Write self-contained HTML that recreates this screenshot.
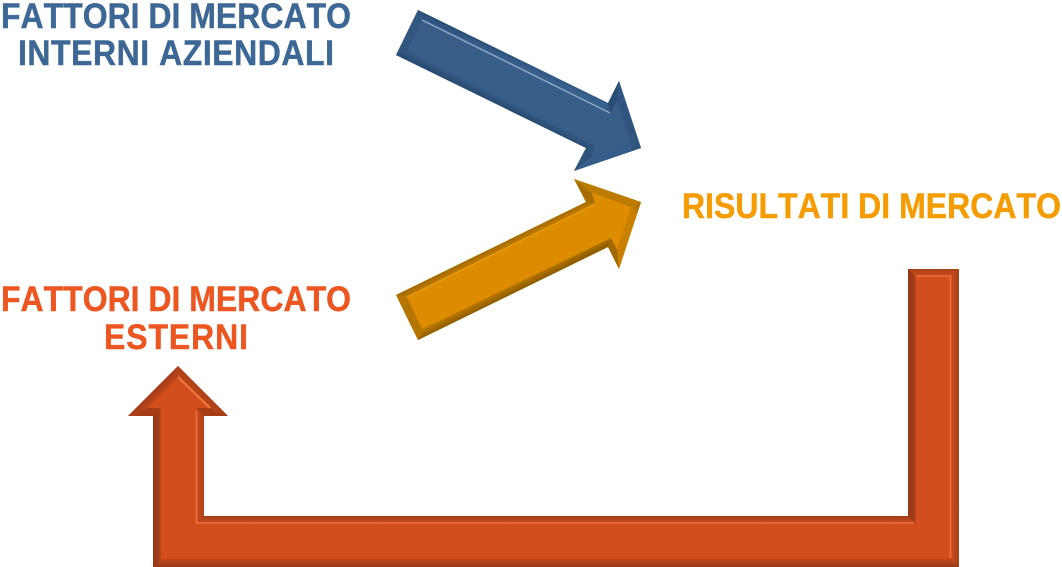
<!DOCTYPE html>
<html lang="it">
<head>
<meta charset="utf-8">
<title>Fattori di mercato</title>
<style>
html,body{margin:0;padding:0;background:#fff;width:1062px;height:567px;overflow:hidden}
svg{display:block}
text{font-family:"Liberation Sans",sans-serif;font-weight:bold;font-size:32px;font-kerning:none;stroke-width:.4px}
</style>
</head>
<body>
<svg width="1062" height="567" viewBox="0 0 1062 567" xmlns="http://www.w3.org/2000/svg">
<defs>
<linearGradient id="bt" gradientUnits="userSpaceOnUse" x1="418" y1="10" x2="414" y2="19"><stop offset="0" stop-color="#294b71"/><stop offset="1" stop-color="#37608c"/></linearGradient>
<linearGradient id="bb" gradientUnits="userSpaceOnUse" x1="396" y1="55" x2="400.5" y2="46"><stop offset="0" stop-color="#274870"/><stop offset="1" stop-color="#365d89"/></linearGradient>
<linearGradient id="bh" gradientUnits="userSpaceOnUse" x1="641" y1="148" x2="631" y2="143"><stop offset="0" stop-color="#2a4c73"/><stop offset="1" stop-color="#365d89"/></linearGradient>
<linearGradient id="ot" gradientUnits="userSpaceOnUse" x1="396" y1="295" x2="400.5" y2="304"><stop offset="0" stop-color="#9e6700"/><stop offset="1" stop-color="#d08500"/></linearGradient>
<linearGradient id="ob" gradientUnits="userSpaceOnUse" x1="418" y1="340" x2="413.5" y2="331"><stop offset="0" stop-color="#8f5e00"/><stop offset="1" stop-color="#cc8300"/></linearGradient>
<linearGradient id="oh" gradientUnits="userSpaceOnUse" x1="641" y1="202" x2="631" y2="207"><stop offset="0" stop-color="#a06900"/><stop offset="1" stop-color="#c88000"/></linearGradient>
<linearGradient id="rl" gradientUnits="userSpaceOnUse" x1="153" y1="0" x2="161" y2="0"><stop offset="0" stop-color="#953817"/><stop offset="0.7" stop-color="#a03c18"/><stop offset="1" stop-color="#c0481b"/></linearGradient>
<linearGradient id="rm" gradientUnits="userSpaceOnUse" x1="908" y1="0" x2="916" y2="0"><stop offset="0" stop-color="#953817"/><stop offset="0.7" stop-color="#a03c18"/><stop offset="1" stop-color="#c0481b"/></linearGradient>
<linearGradient id="rb" gradientUnits="userSpaceOnUse" x1="0" y1="567" x2="0" y2="559"><stop offset="0" stop-color="#953817"/><stop offset="1" stop-color="#c0481b"/></linearGradient>
<linearGradient id="rh" gradientUnits="userSpaceOnUse" x1="0" y1="516" x2="0" y2="524"><stop offset="0" stop-color="#a33d18"/><stop offset="1" stop-color="#cc4c1c"/></linearGradient>
<linearGradient id="rt" gradientUnits="userSpaceOnUse" x1="0" y1="269" x2="0" y2="276"><stop offset="0" stop-color="#a83f18"/><stop offset="1" stop-color="#cc4c1c"/></linearGradient>
<linearGradient id="rr" gradientUnits="userSpaceOnUse" x1="959" y1="0" x2="951" y2="0"><stop offset="0" stop-color="#a83f18"/><stop offset="1" stop-color="#cc4c1c"/></linearGradient>
<linearGradient id="rv" gradientUnits="userSpaceOnUse" x1="204" y1="0" x2="196" y2="0"><stop offset="0" stop-color="#b0421a"/><stop offset="1" stop-color="#cc4c1c"/></linearGradient>
<linearGradient id="ra" gradientUnits="userSpaceOnUse" x1="153" y1="391" x2="161" y2="399"><stop offset="0" stop-color="#a23c18"/><stop offset="1" stop-color="#c84a1b"/></linearGradient>
<linearGradient id="rc" gradientUnits="userSpaceOnUse" x1="203" y1="391" x2="195" y2="399"><stop offset="0" stop-color="#a83f18"/><stop offset="1" stop-color="#cc4c1c"/></linearGradient>
</defs>

<!-- Blue arrow -->
<polygon points="418,10 608,103 619,81 641,148 574,171 586,148 396,55" fill="#355a85"/>
<polygon points="418,10 608,103 610,113 422,20" fill="url(#bt)"/>
<polygon points="396,55 418,10 422,20 407,51" fill="#315680"/>
<polygon points="396,55 586,148 595,146 407,51" fill="url(#bb)"/>
<polygon points="586,148 574,171 591,157 595,146" fill="#2f5279"/>
<polygon points="574,171 641,148 631,143 591,157" fill="url(#bh)"/>
<polygon points="641,148 619,81 617,101 631,143" fill="#2f5580"/>
<polygon points="619,81 608,103 610,113 617,101" fill="#2b4e75"/>
<polygon points="422,20 610,113 617,101 631,143 591,157 595,146 407,51" fill="#385d88"/>
<line x1="422" y1="20" x2="610" y2="113" stroke="#8ea7c4" stroke-width="1.5"/>

<!-- Orange arrow -->
<polygon points="396,295 586,202 574,179 641,202 619,269 608,247 418,340" fill="#dd8c00"/>
<polygon points="396,295 586,202 595,204 407,297" fill="url(#ot)"/>
<polygon points="574,179 586,202 595,204 592,193" fill="#a66d00"/>
<polygon points="574,179 592,193 631,207 641,202" fill="#bb7c00"/>
<polygon points="641,202 631,207 617,250 619,269" fill="url(#oh)"/>
<polygon points="619,269 617,250 611,238 608,247" fill="#9f6800"/>
<polygon points="418,340 608,247 611,238 422,329" fill="url(#ob)"/>
<polygon points="396,295 407,297 422,329 418,340" fill="#b47600"/>
<polygon points="407,297 595,204 592,193 631,207 617,250 611,238 422,329" fill="#dd8c00"/>
<line x1="407" y1="297" x2="595" y2="204" stroke="#ee9f15" stroke-width="1"/>

<!-- Red arrow -->
<polygon points="178,366 228,416 204,416 204,516 908,516 908,269 959,269 959,567 153,567 153,416 128,416" fill="#d34e1d"/>
<polygon points="178,366 178,377 148,408 128,416" fill="url(#ra)"/>
<polygon points="178,366 228,416 210,408 178,377" fill="url(#rc)"/>
<polygon points="228,416 204,416 196,408 210,408" fill="#a53d17"/>
<polygon points="204,416 204,516 196,524 196,408" fill="url(#rv)"/>
<polygon points="204,516 908,516 916,524 196,524" fill="url(#rh)"/>
<polygon points="908,516 908,269 916,276 916,524" fill="url(#rm)"/>
<polygon points="908,269 959,269 951,276 916,276" fill="url(#rt)"/>
<polygon points="959,269 959,567 951,559 951,276" fill="url(#rr)"/>
<polygon points="959,567 153,567 161,559 951,559" fill="url(#rb)"/>
<polygon points="153,567 153,416 161,408 161,559" fill="url(#rl)"/>
<polygon points="153,416 128,416 148,408 161,408" fill="#a53d17"/>
<polygon points="178,377 210,408 196,408 196,524 916,524 916,276 951,276 951,559 161,559 161,408 148,408" fill="#d34e1d"/>
<polyline points="178,377 210,408" fill="none" stroke="#f07a45" stroke-width="2"/>
<polyline points="196.5,410 196.5,523 914,523" fill="none" stroke="#ee7040" stroke-width="1.6"/>
<polyline points="916,276 950.5,276 950.5,558" fill="none" stroke="#ee7040" stroke-width="1.6"/>

<!-- Labels -->
<text transform="translate(1,28) scale(1,1.1)" textLength="350" lengthAdjust="spacing" fill="#3d6896" stroke="#3d6896">FATTORI DI MERCATO</text>
<text transform="translate(18,65) scale(1,1.1)" textLength="316" lengthAdjust="spacing" fill="#3d6896" stroke="#3d6896">INTERNI AZIENDALI</text>
<text transform="translate(1,311) scale(1,1.1)" textLength="350" lengthAdjust="spacing" fill="#ec5620" stroke="#ec5620">FATTORI DI MERCATO</text>
<text transform="translate(104,349) scale(1,1.1)" textLength="144" lengthAdjust="spacing" fill="#ec5620" stroke="#ec5620">ESTERNI</text>
<text transform="translate(682,218) scale(1,1.1)" textLength="379" lengthAdjust="spacing" fill="#f59c00" stroke="#f59c00">RISULTATI DI MERCATO</text>
</svg>
</body>
</html>
